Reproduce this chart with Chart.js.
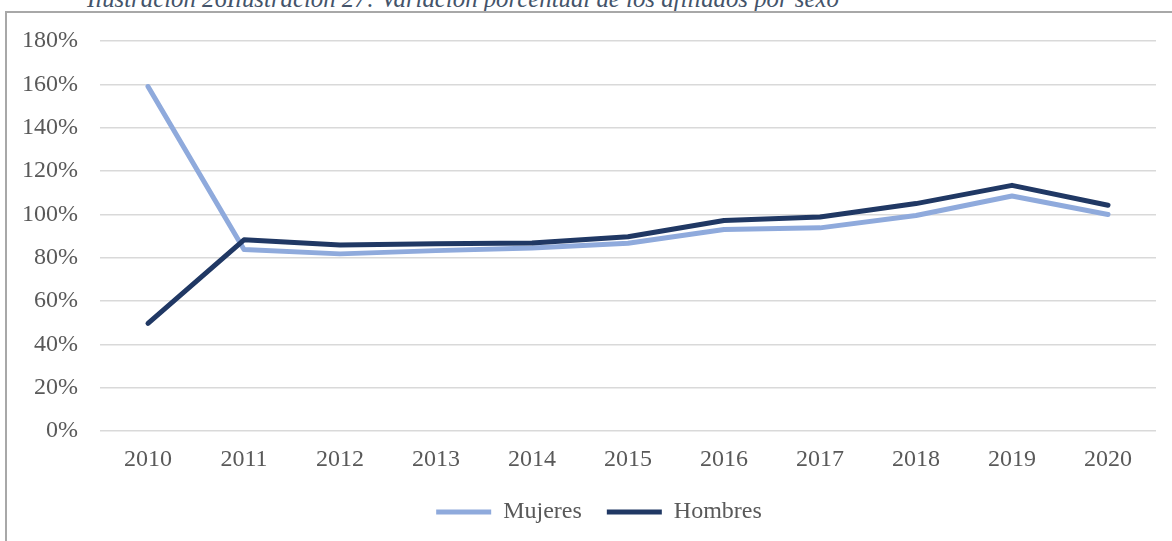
<!DOCTYPE html>
<html lang="es">
<head>
<meta charset="utf-8">
<title>Variación porcentual de los afiliados por sexo</title>
<script src="https://cdn.jsdelivr.net/npm/chart.js@4.4.0/dist/chart.umd.min.js"></script>
<style>
  html, body { margin: 0; padding: 0; background: #fff; overflow: hidden; width: 1172px; height: 541px; }
  .caption {
    position: absolute; left: 87px; top: -14px;
    font: italic 24.8px "Liberation Serif", "Times New Roman", serif;
    line-height: 25px; color: #44546A; white-space: nowrap;
  }
  .frame {
    position: absolute; left: 5px; top: 11px; width: 1250px; height: 600px;
    border: 2px solid #a8a8a8; box-sizing: border-box;
  }
  #chart { position: absolute; left: 0; top: 0; }
</style>
</head>
<body>
<div class="caption">Ilustración 26Ilustración 27: Variación porcentual de los afiliados por sexo</div>
<div class="frame"></div>
<canvas id="chart" width="1200" height="560"></canvas>
<script>
// ======= datos =======
const years = ['2010', '2011', '2012', '2013', '2014', '2015', '2016', '2017', '2018', '2019', '2020'];
const mujeres = [1.59, 0.838, 0.818, 0.833, 0.845, 0.867, 0.930, 0.938, 0.995, 1.085, 1.000];
const hombres = [0.497, 0.883, 0.859, 0.865, 0.868, 0.897, 0.972, 0.988, 1.050, 1.134, 1.042];
const yTicks = { min: 0, max: 1.8, step: 0.2 };

const textColor = '#595959';
const serif = '"Liberation Serif", "Times New Roman", serif';

// mueve la leyenda un poco (el gráfico original es más ancho que la captura)
const legendShift = {
  id: 'legendShift',
  afterLayout(chart) {
    const lg = chart.legend;
    if (!lg) return;
    lg.left += 21; lg.right += 21;
    lg.top -= 5; lg.bottom -= 5;
  }
};

const ctx = document.getElementById('chart').getContext('2d');
new Chart(ctx, {
  type: 'line',
  data: {
    labels: years,
    datasets: [{
      label: 'Mujeres',
      data: mujeres,
      borderColor: '#8FAADC',
      backgroundColor: '#8FAADC',
      borderWidth: 5,
      borderCapStyle: 'round',
      borderJoinStyle: 'round',
      pointRadius: 0,
      tension: 0,
      order: 1
    }, {
      label: 'Hombres',
      data: hombres,
      borderColor: '#203864',
      backgroundColor: '#203864',
      borderWidth: 5,
      borderCapStyle: 'round',
      borderJoinStyle: 'round',
      pointRadius: 0,
      tension: 0,
      order: 0
    }]
  },
  options: {
    responsive: false,
    animation: false,
    events: [],
    layout: { padding: { left: 0, right: 44, top: 41, bottom: 21 } },
    scales: {
      x: {
        offset: true,
        grid: { display: false },
        border: { display: false },
        ticks: { color: textColor, padding: 6, maxRotation: 0, font: { family: serif, size: 24 } }
      },
      y: {
        min: yTicks.min,
        max: yTicks.max,
        grid: { color: '#d9d9d9', lineWidth: 1.5, drawTicks: false },
        border: { display: false },
        afterFit: (scale) => { scale.width = 100; },
        ticks: {
          stepSize: yTicks.step,
          padding: 22,
          color: textColor,
          font: { family: serif, size: 24 },
          callback: (v) => Math.round(v * 100) + '%'
        }
      }
    },
    plugins: {
      tooltip: { enabled: false },
      title: { display: false },
      legend: {
        position: 'bottom',
        labels: {
          usePointStyle: true,
          pointStyle: 'line',
          pointStyleWidth: 55,
          padding: 25,
          color: textColor,
          font: { family: serif, size: 24 },
          sort: (a, b) => a.datasetIndex - b.datasetIndex
        }
      }
    }
  },
  plugins: [legendShift]
});
</script>
</body>
</html>
